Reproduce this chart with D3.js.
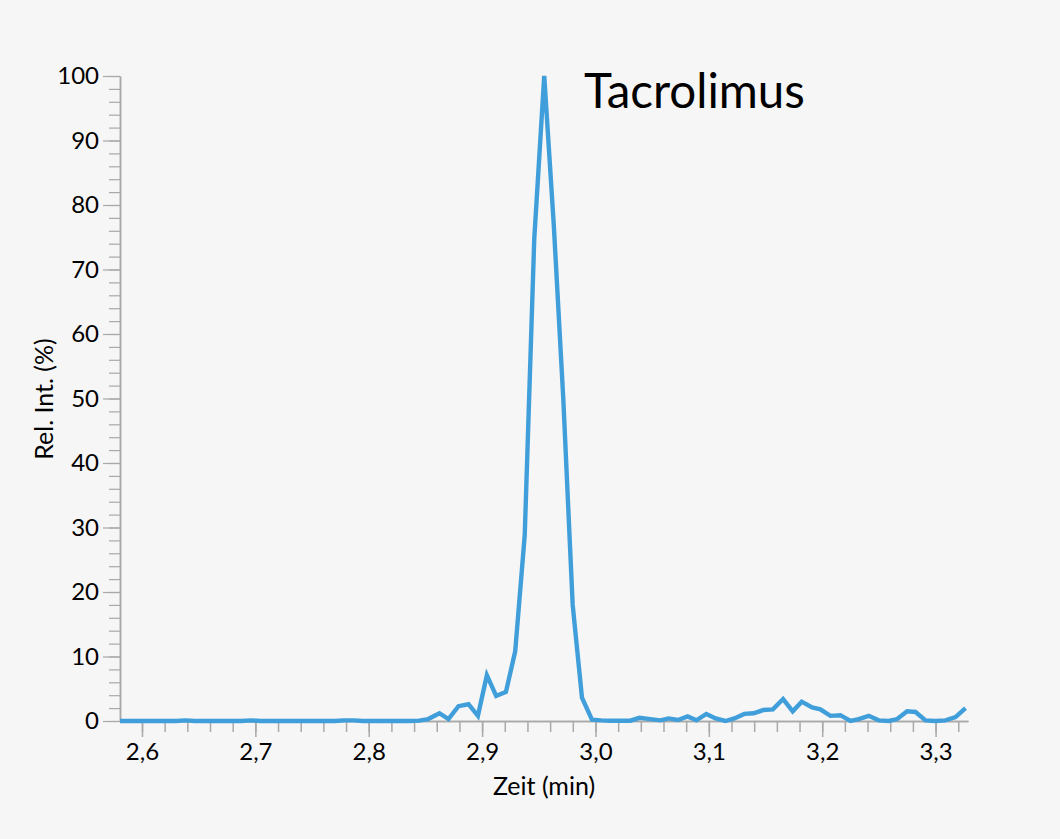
<!DOCTYPE html>
<html>
<head>
<meta charset="utf-8">
<script src="https://cdn.jsdelivr.net/npm/d3@7"></script>
<style>
  html, body { margin: 0; padding: 0; background: #f6f6f6; }
  svg { display: block; }
  text { font-family: "Lato", "Noto Sans", sans-serif; fill: #000; }
</style>
</head>
<body>
<svg id="chart" width="1060" height="839"></svg>
<script>
// ---- Data ----
const times = [
  2.5806, 2.5888, 2.5971, 2.6053, 2.6136, 2.6218, 2.6300, 2.6383, 2.6465, 2.6548,
  2.6630, 2.6713, 2.6795, 2.6877, 2.6960, 2.7042, 2.7125, 2.7207, 2.7290, 2.7372,
  2.7455, 2.7537, 2.7619, 2.7702, 2.7784, 2.7867, 2.7949, 2.8032, 2.8114, 2.8196,
  2.8279, 2.8361, 2.8444, 2.8524, 2.8624, 2.8703, 2.8792, 2.8880, 2.8963, 2.9042,
  2.9124, 2.9210, 2.9292, 2.9376, 2.9460, 2.9548, 2.9632, 2.9716, 2.9799, 2.9881,
  2.9969, 3.0051, 3.0135, 3.0219, 3.0307, 3.0389, 3.0484, 3.0572, 3.0645, 3.0728,
  3.0813, 3.0890, 3.0978, 3.1060, 3.1146, 3.1225, 3.1313, 3.1395, 3.1481, 3.1565,
  3.1655, 3.1740, 3.1819, 3.1911, 3.1984, 3.2072, 3.2160, 3.2249, 3.2322, 3.2410,
  3.2499, 3.2587, 3.2661, 3.2749, 3.2823, 3.2911, 3.2999, 3.3087, 3.3176, 3.3264
];
const intensity = [
  0, 0, 0, 0, 0, 0, 0, 0.1, 0, 0,
  0, 0, 0, 0, 0.1, 0, 0, 0, 0, 0,
  0, 0, 0, 0, 0.1, 0.1, 0, 0, 0, 0,
  0, 0, 0.05, 0.3, 1.2, 0.3, 2.3, 2.6, 0.8, 7.1,
  3.9, 4.5, 10.8, 28.8, 74.7, 100, 77, 50, 18, 3.6,
  0.2, 0.1, 0.05, 0.05, 0.05, 0.5, 0.3, 0.1, 0.4, 0.15,
  0.7, 0.1, 1.1, 0.4, 0, 0.4, 1.1, 1.2, 1.7, 1.8,
  3.4, 1.5, 3.0, 2.1, 1.8, 0.8, 0.9, 0, 0.3, 0.8,
  0.1, 0, 0.3, 1.5, 1.4, 0.1, 0, 0.1, 0.6, 2.0
];
const xMajorTicks = [2.6, 2.7, 2.8, 2.9, 3.0, 3.1, 3.2, 3.3];
const yMajorTicks = [0, 10, 20, 30, 40, 50, 60, 70, 80, 90, 100];
const xDomain = [2.5806, 3.3286];
const yDomain = [0, 100];
const titleText = "Tacrolimus";
const xLabel = "Zeit (min)";
const yLabel = "Rel. Int. (%)";

// ---- Layout ----
const svg = d3.select("#chart");
const plotLeft = 120, plotRight = 968, plotTop = 76, plotBottom = 721;

const x = d3.scaleLinear().domain(xDomain).range([plotLeft, plotRight]);
const y = d3.scaleLinear().domain(yDomain).range([plotBottom, plotTop]);

const deLocale = d3.formatLocale({ decimal: ",", thousands: ".", grouping: [3], currency: ["", " €"] });
const fmtX = deLocale.format(".1f");

const axisColor = "#a9a9a9";

// minor ticks
const xMinor = d3.range(2.58, 3.3286, 0.02).map(v => +v.toFixed(2)).filter(v => v >= xDomain[0]);
const yMinor = d3.range(0, 100.001, 2);

// X axis
const gx = svg.append("g").attr("transform", `translate(0,${plotBottom})`);
gx.append("g").call(d3.axisBottom(x).tickValues(xMinor).tickSize(11).tickFormat("").tickSizeOuter(0));
gx.append("g").call(d3.axisBottom(x).tickValues(xMajorTicks).tickSize(16).tickPadding(6).tickFormat(fmtX).tickSizeOuter(0));
gx.selectAll("path.domain").attr("stroke", axisColor).attr("stroke-width", 1.5);
gx.selectAll(".tick line").attr("stroke", axisColor).attr("stroke-width", 1.5);
gx.selectAll(".tick text").attr("font-size", 24).attr("font-family", "Lato, 'Noto Sans', sans-serif").attr("fill", "#000");

// Y axis
const gy = svg.append("g").attr("transform", `translate(${plotLeft},0)`);
gy.append("g").call(d3.axisLeft(y).tickValues(yMinor).tickSize(11).tickFormat("").tickSizeOuter(0));
gy.append("g").call(d3.axisLeft(y).tickValues(yMajorTicks).tickSize(17).tickPadding(4).tickFormat(d3.format("d")).tickSizeOuter(0));
gy.selectAll("path.domain").attr("stroke", axisColor).attr("stroke-width", 1.5);
gy.selectAll(".tick line").attr("stroke", axisColor).attr("stroke-width", 1.2);
gy.selectAll(".tick text").attr("font-size", 24).attr("font-family", "Lato, 'Noto Sans', sans-serif").attr("fill", "#000");

// Data line
const data = times.map((t, i) => ({ t, v: intensity[i] }));
svg.append("path")
  .datum(data)
  .attr("fill", "none")
  .attr("stroke", "#409fda")
  .attr("stroke-width", 4.4)
  .attr("stroke-linejoin", "miter")
  .attr("d", d3.line().x(d => x(d.t)).y(d => y(d.v)));

// Title
svg.append("text")
  .attr("x", 584).attr("y", 108)
  .attr("font-size", 47.5)
  .text(titleText);

// Axis labels
svg.append("text")
  .attr("x", 544).attr("y", 795)
  .attr("text-anchor", "middle")
  .attr("font-size", 25)
  .text(xLabel);

svg.append("text")
  .attr("transform", `translate(53,399) rotate(-90)`)
  .attr("text-anchor", "middle")
  .attr("font-size", 25)
  .text(yLabel);
</script>
</body>
</html>
